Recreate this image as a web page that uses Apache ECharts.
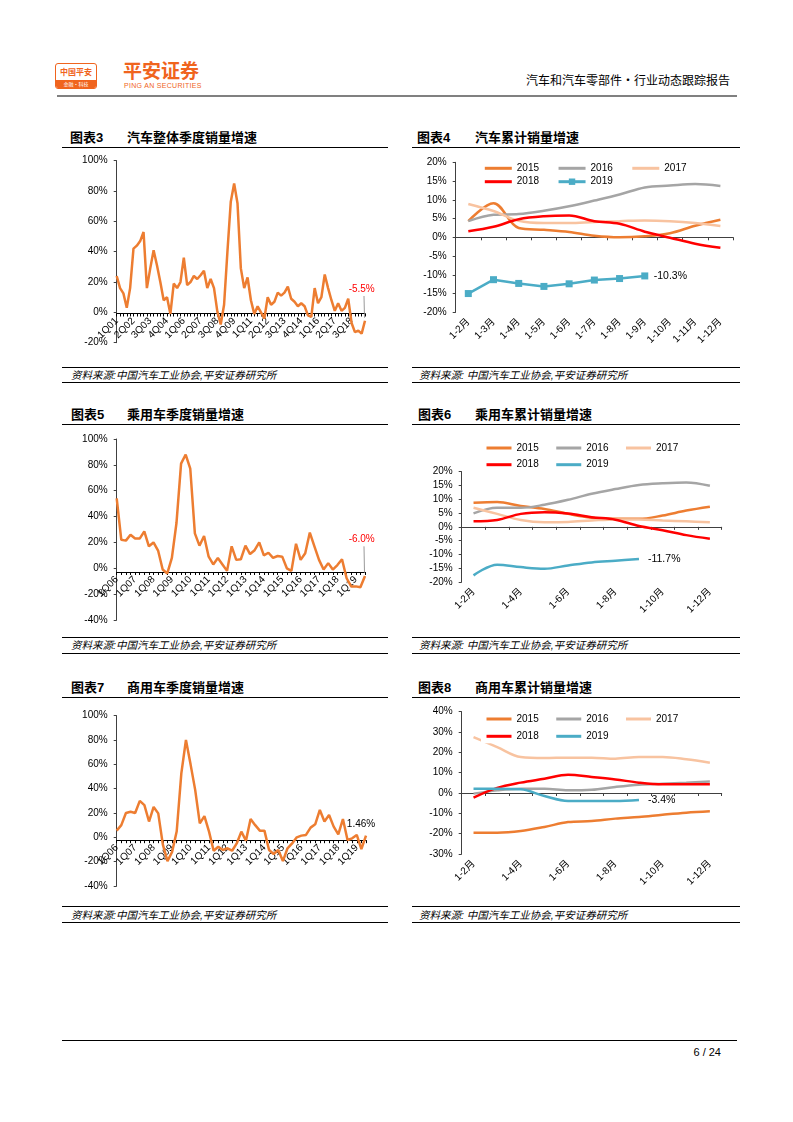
<!DOCTYPE html>
<html>
<head>
<meta charset="utf-8">
<script src="https://cdn.jsdelivr.net/npm/echarts@6/dist/echarts.min.js"></script>
<style>
  body { margin: 0; background: #fff; }
  #page { position: relative; width: 793px; height: 1122px; overflow: hidden; background: #fff;
          font-family: Arial, "Liberation Sans", "Noto Sans CJK SC", sans-serif; }
  .hl { position: absolute; height: 0; border-top: 1px solid #000; }
  .ttl { position: absolute; font-weight: bold; font-size: 13px; line-height: 16px; color: #000; white-space: nowrap;
         font-family: Arial, "Liberation Sans", "Noto Sans CJK SC", sans-serif; }
  .src { position: absolute; font-style: italic; font-size: 10.5px; line-height: 14px; color: #000; white-space: nowrap;
         font-family: Arial, "Liberation Sans", "Noto Sans CJK SC", sans-serif; }
  .chart { position: absolute; }
</style>
</head>
<body>
<div id="page">
  <!-- header -->
  <div style="position:absolute;left:55px;top:63px;width:40px;height:24px;border:1px solid #F0641E;border-radius:3px;overflow:hidden;background:#fff;">
    <div style="position:absolute;left:0;top:3px;width:40px;text-align:center;font-size:8px;line-height:10px;font-weight:bold;color:#F0641E;font-family:'Noto Sans CJK SC',sans-serif;">中国平安</div>
    <div style="position:absolute;left:0;bottom:0;width:40px;height:8px;background:#F0641E;color:#fff;text-align:center;font-size:5px;line-height:8px;font-family:'Noto Sans CJK SC',sans-serif;">金融·科技</div>
  </div>
  <div style="position:absolute;left:123px;top:59px;font-size:19px;line-height:22px;font-weight:bold;color:#F0641E;font-family:'Noto Sans CJK SC',sans-serif;white-space:nowrap;">平安证券</div>
  <div style="position:absolute;left:124px;top:81px;font-size:7px;line-height:9px;color:#F0641E;letter-spacing:0.3px;white-space:nowrap;">PING AN SECURITIES</div>
  <div style="position:absolute;right:63px;top:72px;font-size:12px;line-height:16px;color:#000;font-family:'Noto Sans CJK SC',sans-serif;white-space:nowrap;">汽车和汽车零部件·行业动态跟踪报告</div>
  <div style="position:absolute;left:57px;top:95px;width:680px;height:2px;background:#808080;"></div>

  <!-- row 1 -->
  <div class="ttl" style="left:70px;top:130px;">图表3</div>
  <div class="ttl" style="left:127px;top:130px;">汽车整体季度销量增速</div>
  <div class="ttl" style="left:417px;top:130px;">图表4</div>
  <div class="ttl" style="left:475px;top:130px;">汽车累计销量增速</div>
  <div class="hl" style="left:62px;top:147px;width:326px;"></div>
  <div class="hl" style="left:412px;top:147px;width:328px;"></div>
  <div class="hl" style="left:62px;top:367px;width:326px;"></div>
  <div class="hl" style="left:412px;top:367px;width:328px;"></div>
  <div class="src" style="left:71px;top:367.5px;">资料来源:中国汽车工业协会,平安证券研究所</div>
  <div class="src" style="left:419px;top:367.5px;">资料来源:&nbsp;中国汽车工业协会,平安证券研究所</div>
  <div class="hl" style="left:62px;top:382px;width:326px;"></div>
  <div class="hl" style="left:412px;top:382px;width:328px;"></div>

  <!-- row 2 -->
  <div class="ttl" style="left:71px;top:407px;">图表5</div>
  <div class="ttl" style="left:127px;top:407px;">乘用车季度销量增速</div>
  <div class="ttl" style="left:418px;top:407px;">图表6</div>
  <div class="ttl" style="left:475px;top:407px;">乘用车累计销量增速</div>
  <div class="hl" style="left:62px;top:424px;width:326px;"></div>
  <div class="hl" style="left:412px;top:424px;width:328px;"></div>
  <div class="hl" style="left:62px;top:637px;width:326px;"></div>
  <div class="hl" style="left:412px;top:637px;width:328px;"></div>
  <div class="src" style="left:71px;top:638px;">资料来源:中国汽车工业协会,平安证券研究所</div>
  <div class="src" style="left:419px;top:638px;">资料来源:&nbsp;中国汽车工业协会,平安证券研究所</div>
  <div class="hl" style="left:62px;top:653px;width:326px;"></div>
  <div class="hl" style="left:412px;top:653px;width:328px;"></div>

  <!-- row 3 -->
  <div class="ttl" style="left:71px;top:680px;">图表7</div>
  <div class="ttl" style="left:127px;top:680px;">商用车季度销量增速</div>
  <div class="ttl" style="left:418px;top:680px;">图表8</div>
  <div class="ttl" style="left:475px;top:680px;">商用车累计销量增速</div>
  <div class="hl" style="left:62px;top:697px;width:326px;"></div>
  <div class="hl" style="left:412px;top:697px;width:328px;"></div>
  <div class="hl" style="left:62px;top:906px;width:326px;"></div>
  <div class="hl" style="left:412px;top:906px;width:328px;"></div>
  <div class="src" style="left:71px;top:908px;">资料来源:中国汽车工业协会,平安证券研究所</div>
  <div class="src" style="left:419px;top:908px;">资料来源:&nbsp;中国汽车工业协会,平安证券研究所</div>
  <div class="hl" style="left:62px;top:922px;width:326px;"></div>
  <div class="hl" style="left:412px;top:922px;width:328px;"></div>

  <!-- footer -->
  <div class="hl" style="left:62px;top:1040px;width:675px;"></div>
  <div style="position:absolute;right:72px;top:1045px;font-size:11px;line-height:14px;color:#000;">6 / 24</div>

  <div id="c3" class="chart" style="left:62px;top:150px;width:326px;height:215px;"></div>
  <div id="c4" class="chart" style="left:412px;top:150px;width:328px;height:215px;"></div>
  <div id="c5" class="chart" style="left:62px;top:428px;width:326px;height:208px;"></div>
  <div id="c6" class="chart" style="left:412px;top:428px;width:328px;height:208px;"></div>
  <div id="c7" class="chart" style="left:62px;top:700px;width:326px;height:205px;"></div>
  <div id="c8" class="chart" style="left:412px;top:700px;width:328px;height:205px;"></div>
</div>

<script>
// ---------------- DATA ----------------
const quarters = [
  '1Q01','2Q01','3Q01','4Q01','1Q02','2Q02','3Q02','4Q02','1Q03','2Q03','3Q03','4Q03',
  '1Q04','2Q04','3Q04','4Q04','1Q05','2Q05','3Q05','4Q05','1Q06','2Q06','3Q06','4Q06',
  '1Q07','2Q07','3Q07','4Q07','1Q08','2Q08','3Q08','4Q08','1Q09','2Q09','3Q09','4Q09',
  '1Q10','2Q10','3Q10','4Q10','1Q11','2Q11','3Q11','4Q11','1Q12','2Q12','3Q12','4Q12',
  '1Q13','2Q13','3Q13','4Q13','1Q14','2Q14','3Q14','4Q14','1Q15','2Q15','3Q15','4Q15',
  '1Q16','2Q16','3Q16','4Q16','1Q17','2Q17','3Q17','4Q17','1Q18','2Q18','3Q18','4Q18',
  '1Q19','2Q19','3Q19'
];
const quartersFrom06 = quarters.slice(20);

// 图表3 汽车整体季度销量增速 (%)
const totalQuarterGrowth = [
  24, 16, 12.5, 3, 16, 42, 44, 47, 53, 16, 29, 41, 31, 20, 8, 10, -1, 19, 16, 20,
  36, 18, 20, 24, 22, 24.5, 27.5, 16, 22, 16, 0.5, -8, 5, 40, 73, 85, 72, 29, 16, 23,
  8, -1, 4, 0, -4, 10, 5, 7, 13, 11, 13, 17, 9, 7, 4, 6, 4, -2, -3, 16,
  6, 10, 25, 16, 8, 1, 6, 1, 3, 9, -7, -13, -12, -14, -5.5
];
// 图表5 乘用车季度销量增速 (%)
const passengerQuarterGrowth = [
  54, 22, 21.4, 26, 23, 23, 28.6, 17, 20, 13.7, -1, -4, 8, 35, 81, 88, 77, 27, 17.5, 25,
  9, 3, 8, 3, -2, 17, 6.5, 7, 17.5, 11, 14, 20, 10, 12, 8, 9.5, 9, 0, -2, 19,
  6.5, 11.6, 27.6, 17, 6.5, -1, 4, -1, 2.5, 7, -7.7, -14, -14, -14.7, -6
];
// 图表7 商用车季度销量增速 (%)
const commercialQuarterGrowth = [
  5.5, 10, 20, 21, 20, 30, 26.5, 13, 25, 19.7, -6, -19.5, -12, 5, 52.6, 80, 60, 39, 11.5, 17.5,
  4.7, -11, -7.7, -10.4, -9, -11, -5, 4.7, -2.7, 15, 10, 5.5, 5.5, -10.4, -13.7, -10.4, -19.5, -9, -5, 0,
  1.4, 2, 8, 10.7, 22.5, 13, 18.4, 8.8, 2.5, 15, -2.2, -0.8, 2, -9.6, 1.46
];

const months = ['1-2月','1-3月','1-4月','1-5月','1-6月','1-7月','1-8月','1-9月','1-10月','1-11月','1-12月'];
const years = ['2015','2016','2017','2018','2019'];

// 图表4 汽车累计销量增速 (%)
const total2015 = [4.3, 9.1, 2.5, 2.0, 1.4, 0.4, 0.0, 0.3, 1.1, 3.1, 4.7];
const total2016 = [4.3, 6.0, 6.2, 7.1, 8.3, 9.8, 11.4, 13.3, 13.8, 14.2, 13.7];
const total2017 = [8.9, 7.0, 4.4, 3.8, 3.8, 4.1, 4.3, 4.5, 4.3, 3.8, 3.0];
const total2018 = [1.6, 2.8, 4.8, 5.6, 5.8, 4.3, 3.6, 1.5, -0.1, -1.7, -2.8];
const total2019 = [-15.0, -11.3, -12.3, -13.1, -12.4, -11.4, -11.0, -10.3];

// 图表6 乘用车累计销量增速 (%)
const pass2015 = [8.7, 9.0, 7.6, 6.5, 4.7, 3.3, 2.9, 2.9, 4.1, 5.9, 7.3];
const pass2016 = [4.9, 6.9, 6.9, 8.0, 9.8, 12.0, 13.7, 15.2, 15.8, 16.1, 14.9];
const pass2017 = [6.9, 4.7, 2.5, 1.7, 1.8, 2.3, 2.7, 2.7, 2.3, 2.0, 1.7];
const pass2018 = [2.0, 2.5, 4.7, 5.3, 4.8, 3.5, 2.6, 0.3, -1.2, -3.0, -4.3];
const pass2019 = [-17.6, -13.7, -14.6, -15.2, -14.0, -12.9, -12.3, -11.7];

// 图表8 商用车累计销量增速 (%)
const comm2015 = [-19.5, -19.5, -18.7, -16.7, -14.3, -13.8, -12.6, -11.8, -10.7, -9.7, -9.0];
const comm2016 = [-0.3, 1.3, 2.1, 2.1, 1.3, 1.6, 3.0, 4.1, 4.6, 5.1, 5.7];
const comm2017 = [27.5, 22.6, 17.7, 17.2, 17.4, 17.4, 16.9, 17.7, 17.7, 16.6, 14.9];
const comm2018 = [-2.3, 2.5, 5.1, 7.0, 9.0, 7.9, 6.7, 5.1, 4.3, 4.3, 4.3];
const comm2019 = [2.1, 2.1, 1.8, -1.5, -3.9, -3.9, -3.9, -3.4];

// ---------------- STYLE ----------------
const FONT = 'Arial, "Liberation Sans", "Noto Sans CJK SC", sans-serif';
const YEAR_COLORS = { '2015': '#ED7D31', '2016': '#A5A5A5', '2017': '#F8C3A0', '2018': '#FF0000', '2019': '#4BACC6' };
const AXIS_COLOR = '#404040';

function yAxisCfg(min, max, interval) {
  return {
    type: 'value', min: min, max: max, interval: interval,
    axisLine: { show: true, lineStyle: { color: AXIS_COLOR, width: 1 } },
    axisTick: { show: true, length: 3, lineStyle: { color: AXIS_COLOR } },
    axisLabel: { formatter: '{value}%', fontSize: 10, color: '#000', margin: 9, fontFamily: FONT },
    splitLine: { show: false }
  };
}

function quarterChart(id, cats, vals, yMin, yMax, labelInterval, grid, ann) {
  const chart = echarts.init(document.getElementById(id), null, { renderer: 'canvas' });
  chart.setOption({
    animation: false,
    grid: grid,
    xAxis: {
      type: 'category', data: cats, boundaryGap: false, position: 'bottom', offset: 0,
      axisLine: { show: true, onZero: false, lineStyle: { color: '#000', width: 1 } },
      axisTick: { show: true, interval: 0, length: 3, lineStyle: { color: '#000' } },
      axisLabel: { interval: labelInterval, rotate: 45, fontSize: 10, color: '#000', margin: 6, fontFamily: FONT }
    },
    yAxis: yAxisCfg(yMin, yMax, 20),
    series: [{
      type: 'line', data: vals, symbol: 'none',
      lineStyle: { color: '#ED7D31', width: 2.5 }
    }]
  });
  // move the category axis (line, ticks, labels) up to the zero value of the y scale
  const yZero = chart.convertToPixel({ yAxisIndex: 0 }, 0);
  const yBottom = chart.convertToPixel({ yAxisIndex: 0 }, yMin);
  chart.setOption({ xAxis: { offset: -(yBottom - yZero) } });

  const last = vals.length - 1;
  const p = chart.convertToPixel({ seriesIndex: 0 }, [last, vals[last]]);
  const g = [{
    type: 'text', x: p[0] + ann.dx, y: p[1] + ann.dy, z: 10,
    style: { text: ann.text, fill: ann.color, font: '10px ' + FONT, align: 'center', verticalAlign: 'middle' }
  }];
  if (ann.leader) {
    g.push({
      type: 'line', z: 10,
      shape: { x1: p[0] - 1, y1: p[1] + ann.dy + 7, x2: p[0] - 0.5, y2: p[1] - 3 },
      style: { stroke: '#7F7F7F', lineWidth: 0.8 }
    });
  }
  chart.setOption({ graphic: g });
}

function cumChart(id, seriesData, yMin, yMax, yInterval, labelInterval, grid, legendCfg, markers2019) {
  const chart = echarts.init(document.getElementById(id), null, { renderer: 'canvas' });
  const series = years.map(function (y, i) {
    const is19 = y === '2019';
    const s = {
      name: y, type: 'line', data: seriesData[i],
      smooth: is19 && markers2019 ? false : 0.35,
      symbol: is19 && markers2019 ? 'rect' : 'none',
      symbolSize: 7,
      showSymbol: is19 && markers2019,
      itemStyle: { color: YEAR_COLORS[y] },
      lineStyle: { color: YEAR_COLORS[y], width: 2.5 },
      z: is19 ? 3 : 2
    };
    if (is19) {
      s.endLabel = {
        show: true, distance: 9, color: '#000', fontSize: 10.5, fontFamily: FONT,
        formatter: function (pp) { return pp.value + '%'; }
      };
    }
    return s;
  });
  function legendItem(name) {
    const withMarker = name === '2019' && markers2019;
    return { name: name, itemStyle: { opacity: withMarker ? 1 : 0 } };
  }
  const legendBase = {
    left: legendCfg.left, padding: legendCfg.padding, itemWidth: legendCfg.itemWidth, itemHeight: 8,
    itemGap: legendCfg.itemGap, backgroundColor: legendCfg.bg || 'transparent',
    lineStyle: { width: 3 },
    textStyle: { fontSize: 10, color: '#000', fontFamily: FONT }, selectedMode: false
  };
  chart.setOption({
    animation: false,
    grid: grid,
    legend: [
      Object.assign({}, legendBase, { top: legendCfg.top1, data: ['2015', '2016', '2017'].map(legendItem) }),
      Object.assign({}, legendBase, { top: legendCfg.top2, data: ['2018', '2019'].map(legendItem) })
    ],
    xAxis: [
      {
        type: 'category', data: months, boundaryGap: true,
        axisLine: { show: false, onZero: false }, axisTick: { show: false },
        axisLabel: { interval: labelInterval, rotate: 45, fontSize: 10, color: '#000', margin: 8, fontFamily: FONT }
      },
      {
        type: 'category', data: months, boundaryGap: true, position: 'bottom',
        axisLine: { show: true, onZero: true, lineStyle: { color: AXIS_COLOR, width: 1 } },
        axisTick: { show: true, interval: 0, length: 3, lineStyle: { color: AXIS_COLOR } },
        axisLabel: { show: false }
      }
    ],
    yAxis: yAxisCfg(yMin, yMax, yInterval),
    series: series
  });
}

// ---------------- CHARTS ----------------
quarterChart('c3', quarters, totalQuarterGrowth, -20, 100, 4,
  { left: 54.7, top: 10.7, width: 248.3, height: 182 },
  { text: '-5.5%', color: '#FF0000', dx: -3.3, dy: -31.7, leader: true });

quarterChart('c5', quartersFrom06, passengerQuarterGrowth, -40, 100, 3,
  { left: 54.7, top: 11, width: 248.3, height: 181 },
  { text: '-6.0%', color: '#FF0000', dx: -3.3, dy: -36.7, leader: true });

quarterChart('c7', quartersFrom06, commercialQuarterGrowth, -40, 100, 3,
  { left: 54.7, top: 15.7, width: 249.3, height: 170.3 },
  { text: '1.46%', color: '#000', dx: -5, dy: -11.4, leader: false });

cumChart('c4', [total2015, total2016, total2017, total2018, total2019], -20, 20, 5, 0,
  { left: 43.7, top: 12.3, width: 277.3, height: 150 },
  { left: 71.3, top1: 13.3, top2: 26.7, itemWidth: 27, itemGap: 18, padding: 0 }, true);

cumChart('c6', [pass2015, pass2016, pass2017, pass2018, pass2019], -20, 20, 5, 1,
  { left: 49.7, top: 43.7, width: 260, height: 110.3 },
  { left: 73, top1: 15, top2: 31.7, itemWidth: 25, itemGap: 16, padding: 0 }, false);

cumChart('c8', [comm2015, comm2016, comm2017, comm2018, comm2019], -30, 40, 10, 1,
  { left: 49.7, top: 11.7, width: 260, height: 142.3 },
  { left: 69, top1: 12, top2: 29.3, itemWidth: 25, itemGap: 16, padding: [2, 4, 2, 4], bg: '#fff' }, false);
</script>
</body>
</html>
